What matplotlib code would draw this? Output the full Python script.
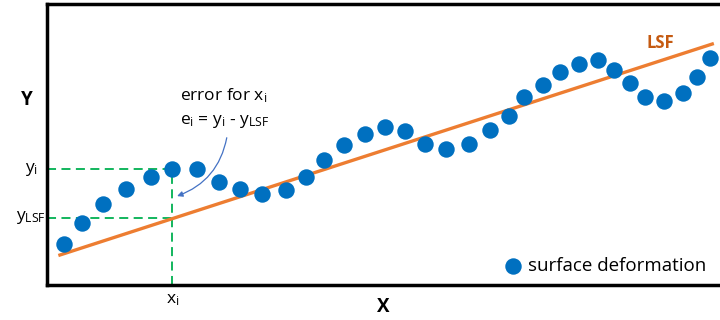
import matplotlib
matplotlib.use("Agg")
import matplotlib.pyplot as plt

plt.rcParams['font.family'] = ['Open Sans', 'DejaVu Sans']
plt.rcParams['mathtext.fontset'] = 'custom'
plt.rcParams['mathtext.rm'] = 'Open Sans'
plt.rcParams['mathtext.it'] = 'Open Sans'

# surface deformation points
pts_x = [64, 82, 103, 126, 151, 173, 198, 220, 241, 263, 287, 307, 325, 345,
         366, 386, 406, 427, 448, 471, 492, 511, 526, 545, 562, 581, 600, 616,
         632, 647, 667, 686, 700, 713]
pts_y = [76, 97, 116, 131, 143, 151, 151, 138, 131, 126, 130, 143, 160, 175,
         186, 193, 189, 176, 171, 176, 190, 204, 223, 235, 248, 256, 260, 250,
         237, 223, 219, 227, 243, 262]

# least squares fit line end points
lsf_x = [60, 715]
lsf_y = [65, 276]

# marked point x_i
xi = 173
yi = 151
y_lsf = 102

blue = '#0070C0'
orange = '#ED7D31'
green = '#00B050'

fig = plt.figure(figsize=(7.2, 3.2), dpi=100)
ax = fig.add_axes([47 / 720, 35 / 320, 1 - 47 / 720 + 0.01, 281 / 320])
ax.set_xlim(47, 730)
ax.set_ylim(35, 316)
for s in ['left', 'bottom', 'top']:
    ax.spines[s].set_linewidth(2.5)
ax.spines['right'].set_visible(False)
ax.set_xticks([])
ax.set_yticks([])

# green guides
dash = (0, (5, 3))
ax.plot([47, xi], [yi, yi], color=green, lw=1.3, ls=dash, clip_on=False)
ax.plot([47, xi], [y_lsf, y_lsf], color=green, lw=1.3, ls=dash, clip_on=False)
ax.plot([xi, xi], [35, yi], color=green, lw=1.3, ls=dash, clip_on=False)

ax.plot(lsf_x, lsf_y, color=orange, lw=2.4, zorder=2)
ax.scatter(pts_x, pts_y, s=140, color=blue, zorder=3, label='surface deformation',
           linewidths=0)

ax.text(663, 277, 'LSF', color='#C55A11', fontsize=12, fontweight='bold',
        ha='center', va='center')

ax.text(181, 224, r'error for $\mathrm{x_i}$', fontsize=12.5, ha='left', va='center')
ax.text(181, 198, r'$\mathrm{e_i}$ = $\mathrm{y_i}$ - $\mathrm{y_{LSF}}$', fontsize=12.5,
        ha='left', va='center')
ax.annotate('', xy=(175, 123), xytext=(228, 185),
            arrowprops=dict(arrowstyle='-|>', color='#4472C4', lw=0.9,
                            connectionstyle='arc3,rad=-0.3', mutation_scale=8))

# axis labels
ax.text(27, 220, 'Y', fontsize=13.5, fontweight='bold', ha='center', va='center', clip_on=False)
ax.text(385, 13, 'X', fontsize=13.5, fontweight='bold', ha='center', va='center', clip_on=False)
ax.text(31, 151, r'$\mathrm{y_i}$', fontsize=12.5, ha='center', va='center', clip_on=False)
ax.text(31, 102, r'$\mathrm{y_{LSF}}$', fontsize=12.5, ha='center', va='center', clip_on=False)
ax.text(xi, 20, r'$\mathrm{x_i}$', fontsize=12.5, ha='center', va='center', clip_on=False)

ax.legend(loc='center left', bbox_to_anchor=(0.655, 0.068), frameon=False, fontsize=13.5,
          handletextpad=0.2, borderpad=0, handlelength=1.2)

fig.savefig('out.png', dpi=100)
